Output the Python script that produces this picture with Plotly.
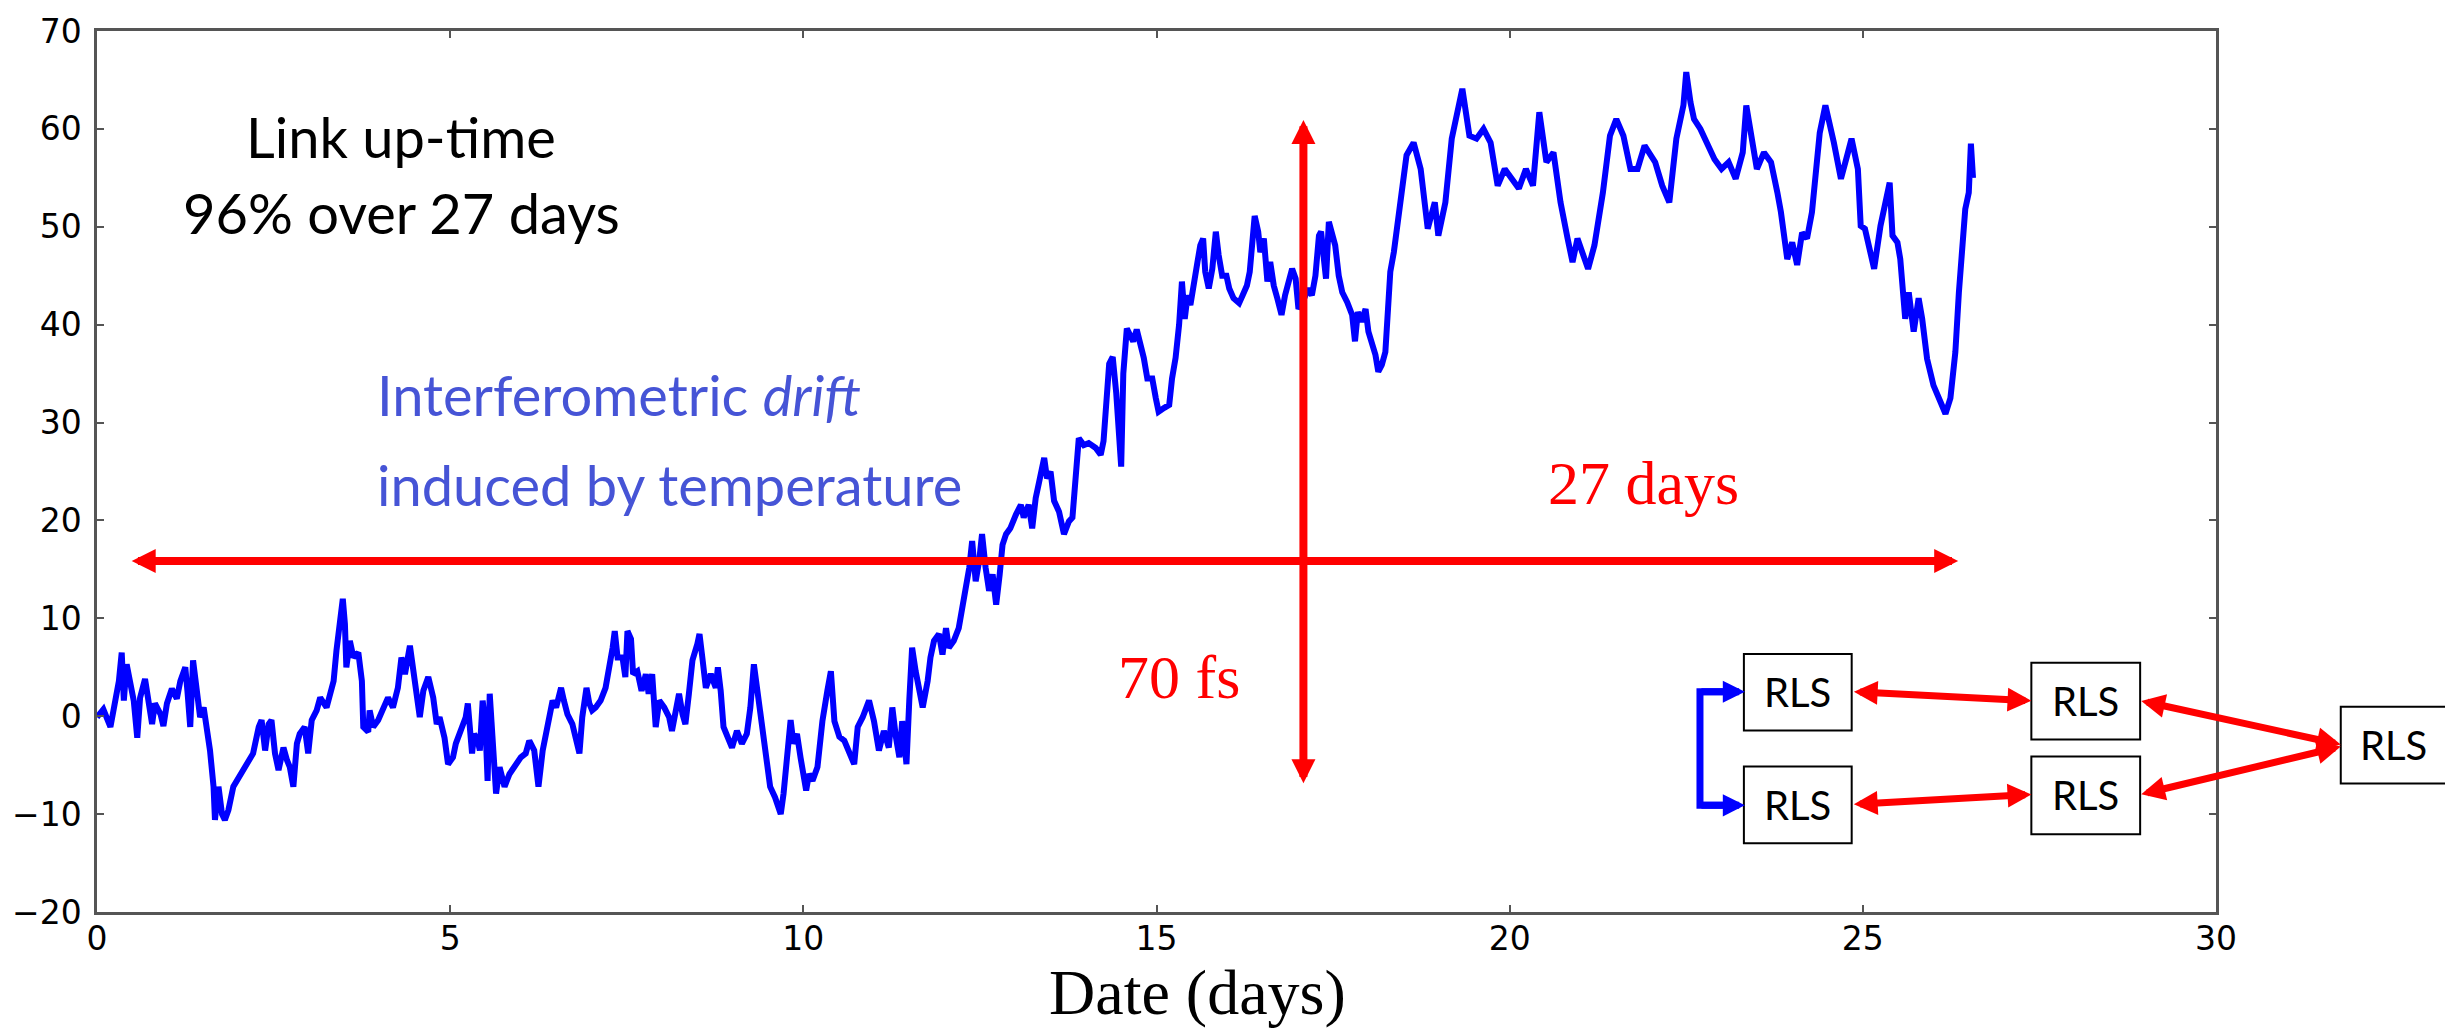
import plotly.graph_objects as go

# ---------------- data ----------------
days = [
    0.00, 0.09, 0.19, 0.24, 0.31, 0.35, 0.38, 0.42, 0.47, 0.52, 0.57, 0.61, 0.68, 0.73, 0.78, 0.82,
    0.90, 0.94, 0.99, 1.06, 1.13, 1.18, 1.25, 1.28, 1.32, 1.36, 1.41, 1.46, 1.51, 1.55, 1.60, 1.65,
    1.67, 1.72, 1.77, 1.81, 1.86, 1.93, 2.03, 2.12, 2.21, 2.29, 2.33, 2.38, 2.43, 2.47, 2.52, 2.57,
    2.64, 2.69, 2.73, 2.78, 2.83, 2.87, 2.94, 2.99, 3.04, 3.11, 3.16, 3.25, 3.30, 3.35, 3.39, 3.44,
    3.48, 3.51, 3.53, 3.58, 3.63, 3.70, 3.75, 3.77, 3.84, 3.86, 3.91, 3.98, 4.05, 4.12, 4.19, 4.26,
    4.31, 4.36, 4.43, 4.48, 4.52, 4.57, 4.62, 4.69, 4.76, 4.81, 4.85, 4.92, 4.97, 5.04,
    5.08, 5.18, 5.22, 5.25, 5.28, 5.31, 5.34, 5.39, 5.42, 5.46, 5.50, 5.53, 5.56, 5.60, 5.65, 5.70,
    5.77, 5.84, 5.91, 6.00, 6.07, 6.12, 6.19, 6.25, 6.31, 6.35, 6.40, 6.45, 6.50, 6.57, 6.61, 6.66,
    6.73, 6.80, 6.83, 6.87, 6.93, 6.97, 7.01, 7.06, 7.13, 7.20, 7.25, 7.30, 7.33, 7.37, 7.44, 7.48,
    7.51, 7.56, 7.59, 7.65, 7.71, 7.77, 7.81, 7.86, 7.91, 7.96, 8.03, 8.10, 8.14, 8.19, 8.24, 8.29,
    8.33, 8.38, 8.43, 8.50, 8.53, 8.57, 8.62, 8.69, 8.76, 8.79, 8.83, 8.87, 8.95, 8.99, 9.06, 9.13,
    9.20, 9.25, 9.30, 9.35, 9.39, 9.44, 9.49, 9.53, 9.60, 9.68, 9.72, 9.77, 9.82, 9.86, 9.91, 9.96,
    10.01, 10.04, 10.08, 10.13, 10.20, 10.27, 10.34, 10.39, 10.44, 10.51, 10.58, 10.65, 10.72, 10.77,
    10.84, 10.93, 11.00, 11.07, 11.14, 11.21, 11.26, 11.31, 11.36, 11.40, 11.46, 11.50, 11.54, 11.59,
    11.64, 11.69, 11.76, 11.80, 11.85, 11.92, 11.97, 12.02, 12.06, 12.13, 12.20, 12.25, 12.30, 12.35,
    12.39, 12.44, 12.49, 12.53, 12.58, 12.63, 12.68, 12.73, 12.78, 12.82, 12.87, 12.93, 13.01, 13.08,
    13.12, 13.19, 13.24, 13.29, 13.34, 13.41, 13.45, 13.50, 13.55, 13.62, 13.69, 13.76, 13.81, 13.85,
    13.90, 13.97, 14.04, 14.14, 14.21, 14.25, 14.29, 14.33, 14.38, 14.43, 14.50, 14.53, 14.58, 14.67,
    14.72, 14.82, 14.87, 14.94, 14.99, 15.03, 15.11, 15.18, 15.22, 15.27, 15.32, 15.36, 15.40, 15.44,
    15.48, 15.53, 15.58, 15.62, 15.66, 15.69, 15.74, 15.79, 15.84, 15.88, 15.93, 15.99, 16.03, 16.09,
    16.17, 16.22, 16.28, 16.32, 16.35, 16.39, 16.44, 16.47, 16.52, 16.57, 16.61, 16.66, 16.71, 16.77,
    16.82, 16.87, 16.92, 16.97, 17.01, 17.08, 17.15, 17.20, 17.25, 17.30, 17.33, 17.37, 17.40, 17.44,
    17.48, 17.53, 17.58, 17.63, 17.70, 17.77, 17.81, 17.85, 17.90, 17.96, 18.00, 18.05, 18.10, 18.14,
    18.19, 18.24, 18.28, 18.31, 18.36, 18.40, 18.45, 18.54, 18.64, 18.74, 18.84, 18.94, 18.99, 19.09,
    19.18, 19.28, 19.33, 19.43, 19.53, 19.63, 19.73, 19.83, 19.93, 20.03, 20.13, 20.23, 20.33, 20.42,
    20.52, 20.62, 20.72, 20.82, 20.89, 20.96, 21.03, 21.11, 21.20, 21.27, 21.32, 21.42, 21.51, 21.61,
    21.71, 21.81, 21.91, 22.06, 22.16, 22.26, 22.36, 22.46, 22.50, 22.56, 22.61, 22.70, 22.80, 22.90,
    23.00, 23.10, 23.20, 23.30, 23.35, 23.42, 23.50, 23.60, 23.70, 23.79, 23.84, 23.93, 24.00, 24.07,
    24.14, 24.21, 24.28, 24.39, 24.47, 24.59, 24.69, 24.79, 24.84, 24.93, 24.97, 25.03, 25.16, 25.25,
    25.38, 25.42, 25.49, 25.53, 25.60, 25.65, 25.72, 25.79, 25.84, 25.91, 26.00, 26.10, 26.17, 26.24,
    26.31, 26.36, 26.40, 26.45, 26.50, 26.53, 26.56,
]

drift_fs = [
    -0.1, 0.7, -1.1, 0.9, 3.6, 6.5, 1.6, 5.3, 3.6, 1.6, -2.2, 1.9, 3.8, 0.9, -0.8, 1.3,
    0.2, -1.0, 1.3, 2.8, 1.8, 3.6, 5.0, 2.6, -1.1, 5.7, 3.3, -0.1, 0.9, -1.1, -3.5, -7.2,
    -10.6, -7.2, -10.0, -10.6, -9.6, -7.2, -5.9, -4.9, -3.8, -1.1, -0.4, -3.5, -0.8, -0.4, -3.8, -5.5,
    -3.2, -4.5, -5.2, -7.2, -2.8, -1.8, -1.1, -3.8, -0.4, 0.6, 1.9, 0.9, 2.1, 3.6, 6.7, 10.1,
    12.0, 9.4, 5.0, 7.7, 6.0, 6.5, 3.6, -1.1, -1.6, 0.6, -1.1, -0.4, 0.6, 1.9, 0.9, 2.9,
    6.0, 4.3, 7.2, 4.6, 2.3, -0.1, 2.6, 4.0, 1.9, -0.8, -0.1, -2.2, -4.9, -4.2,
    -2.8, -1.1, -0.1, 1.3, -1.1, -3.8, -1.8, -2.5, -3.5, 1.6, -1.1, -6.6, 2.3, -1.5, -7.9, -5.2,
    -7.2, -5.9, -5.2, -4.2, -3.8, -2.5, -3.5, -7.2, -3.5, -2.2, -0.1, 1.6, 0.9, 2.9, 1.6, 0.2,
    -0.8, -2.8, -3.8, -0.1, 2.9, 1.3, 0.6, 0.9, 1.6, 2.9, 4.6, 7.0, 8.7, 6.0, 6.0, 4.0,
    8.7, 7.9, 4.3, 4.6, 2.6, 4.3, 2.3, 4.3, -1.1, 1.6, 0.9, -0.1, -1.5, 0.9, 2.3, 0.2,
    -0.8, 2.3, 5.7, 7.4, 8.4, 6.0, 2.9, 4.3, 2.9, 5.0, 2.6, -1.1, -2.5, -3.2, -1.5, -2.8,
    -1.8, 0.9, 5.3, 2.6, -0.4, -3.2, -5.2, -7.2, -8.3, -10.0, -7.9, -3.2, -0.4, -2.8, -1.8, -4.2,
    -6.2, -7.6, -5.9, -6.6, -5.2, -0.5, 2.6, 4.6, -0.5, -2.1, -2.5, -3.8, -4.9, -1.1,
    -0.1, 1.6, -0.5, -3.5, -1.5, -3.2, 0.9, -2.1, -4.2, -0.5, -4.9, 1.6, 7.0, 4.6,
    2.3, 0.9, 3.6, 6.0, 7.7, 8.4, 6.3, 9.0, 7.0, 7.7, 9.0, 11.1, 12.5, 15.2,
    17.9, 13.8, 15.9, 18.6, 15.2, 12.8, 14.5, 11.4, 14.5, 17.5, 18.6, 19.2, 20.6, 21.6,
    20.3, 21.6, 19.2, 22.3, 24.0, 26.4, 24.3, 25.0, 22.0, 20.9, 18.6, 19.9, 20.3, 23.7,
    28.4, 27.7, 27.9, 27.4, 26.7, 28.1, 31.5, 36.0, 36.7, 33.0, 25.5, 35.0, 39.6, 38.3,
    39.5, 36.6, 34.5, 34.5, 32.5, 31.1, 31.5, 31.8, 34.5, 36.6, 40.0, 44.4, 40.6, 43.0,
    42.0, 44.7, 46.4, 48.1, 48.8, 45.4, 43.7, 45.7, 49.5, 47.1, 45.0, 45.0, 43.7, 42.7,
    42.2, 43.0, 44.0, 45.4, 48.1, 51.1, 49.5, 47.4, 48.8, 44.4, 46.4, 44.0, 42.7, 41.0,
    43.0, 44.7, 45.7, 44.7, 41.6, 42.5, 43.7, 43.0, 45.0, 49.1, 49.5, 46.7, 44.7, 50.5,
    49.5, 48.1, 45.0, 43.3, 42.3, 41.0, 38.3, 41.3, 40.3, 41.6, 39.3, 38.3, 36.9, 35.2,
    35.9, 37.2, 41.3, 45.4, 47.4, 49.5, 51.8, 57.3, 58.6, 55.9, 49.8, 52.5, 49.1, 52.5,
    59.0, 62.0, 64.1, 59.3, 59.0, 60.0, 58.6, 54.2, 55.9, 54.9, 53.9, 55.9, 54.2, 61.7,
    56.6, 57.6, 52.5, 48.8, 46.4, 48.8, 47.4, 45.7, 48.1, 50.8, 53.5, 59.3, 61.0, 59.3,
    55.9, 55.9, 58.3, 56.6, 54.2, 52.5, 59.0, 62.4, 65.8, 62.7, 61.0, 60.0, 58.6, 56.9,
    55.9, 56.6, 54.9, 57.6, 62.4, 59.3, 55.9, 57.6, 56.6, 53.5, 51.5, 46.7, 48.4, 46.1,
    49.4, 48.8, 51.5, 59.6, 62.4, 58.6, 54.9, 57.6, 59.0, 55.9, 50.1, 49.8, 45.7, 50.1,
    54.5, 49.1, 48.4, 46.7, 40.6, 43.3, 39.3, 42.7, 40.6, 36.5, 33.8, 32.1, 30.9, 32.5,
    37.2, 43.3, 47.8, 51.8, 53.5, 58.5, 55.0,
]

x_ticks = [0, 5, 10, 15, 20, 25, 30]
y_ticks = [-20, -10, 0, 10, 20, 30, 40, 50, 60, 70]

span_days = [0.47, 26.35]   # extent of the "27 days" arrow
span_level = 15.85          # height of the "27 days" arrow
drift_day = 17.08           # position of the "70 fs" arrow
drift_span = [-7.0, 60.9]   # extent of the "70 fs" arrow

node_label = "RLS"

# ---------------- layout helpers ----------------
FIG_W, FIG_H = 2445, 1029
L, R, T, B = 93, 229, 28, 117
PW = FIG_W - L - R
PH = FIG_H - T - B


def px(x):
    return (x - L) / PW


def py(y):
    return (FIG_H - B - y) / PH


fig = go.Figure()
fig.add_trace(go.Scatter(
    x=days, y=drift_fs, mode="lines",
    line=dict(color="#0000ff", width=6),
    showlegend=False, hoverinfo="skip",
))

axis_common = dict(
    ticks="inside", ticklen=7, tickwidth=1.5, tickcolor="#555555",
    showline=True, linecolor="#555555", linewidth=2.5, mirror="ticks",
    showgrid=False, zeroline=False,
    tickfont=dict(family="DejaVu Sans", size=33, color="black"),
)
fig.update_xaxes(range=[0, 30], tickvals=x_ticks, ticklabelstandoff=-4, **axis_common)
fig.update_yaxes(range=[-20, 70], tickvals=y_ticks, ticklabelstandoff=6, **axis_common)

fig.update_layout(
    width=FIG_W, height=FIG_H, autosize=False,
    margin=dict(l=L, r=R, t=T, b=B, pad=0),
    paper_bgcolor="white", plot_bgcolor="white",
    showlegend=False,
)

# x-axis title (serif, large)
fig.add_annotation(xref="paper", yref="paper", x=px(1196), y=py(993),
                   text="Date (days)", showarrow=False, xanchor="center", yanchor="middle",
                   font=dict(family="Liberation Serif", size=64, color="black"))

# text blocks
fig.add_annotation(xref="paper", yref="paper", x=px(398), y=py(134), text="Link up-time",
                   showarrow=False, xanchor="center", yanchor="middle",
                   font=dict(family="Lato", size=56, color="black"))
fig.add_annotation(xref="paper", yref="paper", x=px(398), y=py(210), text="96% over 27 days",
                   showarrow=False, xanchor="center", yanchor="middle",
                   font=dict(family="Lato", size=56, color="black"))
fig.add_annotation(xref="paper", yref="paper", x=px(372), y=py(393),
                   text="Interferometric <i>drift</i>",
                   showarrow=False, xanchor="left", yanchor="middle",
                   font=dict(family="Lato", size=56, color="#4654d6"))
fig.add_annotation(xref="paper", yref="paper", x=px(372), y=py(483),
                   text="induced by temperature",
                   showarrow=False, xanchor="left", yanchor="middle",
                   font=dict(family="Lato", size=56, color="#4654d6"))
fig.add_annotation(xref="paper", yref="paper", x=px(1642), y=py(482), text="27 days",
                   showarrow=False, xanchor="center", yanchor="middle",
                   font=dict(family="Liberation Serif", size=62, color="#ff0000"))
fig.add_annotation(xref="paper", yref="paper", x=px(1177), y=py(676), text="70 fs",
                   showarrow=False, xanchor="center", yanchor="middle",
                   font=dict(family="Liberation Serif", size=62, color="#ff0000"))

# big red double arrows (in data coordinates)
fig.add_annotation(x=span_days[1], y=span_level, ax=span_days[0], ay=span_level,
                   xref="x", yref="y", axref="x", ayref="y", text="", showarrow=True,
                   arrowhead=2, startarrowhead=2, arrowside="end+start",
                   arrowwidth=8, arrowsize=0.6, startarrowsize=0.6, arrowcolor="#ff0000")
fig.add_annotation(x=drift_day, y=drift_span[1], ax=drift_day, ay=drift_span[0],
                   xref="x", yref="y", axref="x", ayref="y", text="", showarrow=True,
                   arrowhead=2, startarrowhead=2, arrowside="end+start",
                   arrowwidth=8, arrowsize=0.6, startarrowsize=0.6, arrowcolor="#ff0000")

# ---------------- network diagram (pixel layout) ----------------
boxes = [
    (1743, 653, 1851, 730),
    (1743, 766, 1851, 843),
    (2031, 662, 2140, 739),
    (2031, 756, 2140, 834),
    (2341, 706, 2449, 783),
]
for (x0, y0, x1, y1) in boxes:
    fig.add_shape(type="rect", xref="paper", yref="paper",
                  x0=px(x0), x1=px(x1), y0=py(y1), y1=py(y0),
                  line=dict(color="black", width=2), fillcolor="white", layer="above")
label_x = [1797, 1797, 2085, 2085, 2394]
for (x0, y0, x1, y1), cx in zip(boxes, label_x):
    fig.add_annotation(xref="paper", yref="paper", x=px(cx), y=py((y0 + y1) / 2),
                       text=node_label, showarrow=False, xanchor="center", yanchor="middle",
                       font=dict(family="Lato", size=40, color="black"))


def link(xt, yt, xh, yh, color, width, size, both):
    fig.add_annotation(xref="paper", yref="paper", x=px(xh), y=py(yh),
                       ax=xt - xh, ay=yt - yh, axref="pixel", ayref="pixel",
                       text="", showarrow=True, arrowhead=2, startarrowhead=2,
                       arrowside="end+start" if both else "end",
                       arrowwidth=width, arrowsize=size, startarrowsize=size,
                       arrowcolor=color)


# blue bracket
fig.add_shape(type="path", xref="paper", yref="paper",
              path=f"M {px(1722)},{py(691)} L {px(1699)},{py(691)} L {px(1699)},{py(805)} L {px(1722)},{py(805)}",
              line=dict(color="#0000ff", width=7), layer="above")
link(1699, 691, 1744, 691, "#0000ff", 7, 0.63, False)
link(1699, 805, 1744, 805, "#0000ff", 7, 0.63, False)

# red links
link(1852, 691, 2031, 700, "#ff0000", 7, 0.68, True)
link(1852, 804, 2031, 794, "#ff0000", 7, 0.68, True)
link(2140, 700, 2341, 744, "#ff0000", 7, 0.68, True)
link(2140, 794, 2341, 746, "#ff0000", 7, 0.68, True)

fig.write_html("out.html")
